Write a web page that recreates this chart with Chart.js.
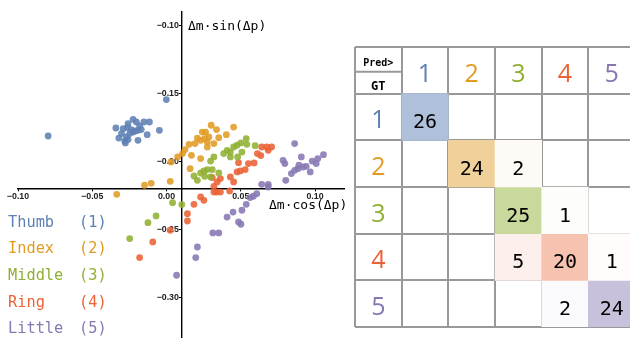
<!DOCTYPE html>
<html><head><meta charset="utf-8">
<script src="https://cdn.jsdelivr.net/npm/chart.js@4.4.1/dist/chart.umd.min.js"></script>
<style>
html,body{margin:0;padding:0;background:#fff;overflow:hidden;width:630px;height:338px;}
#wrap{position:relative;width:630px;height:338px;overflow:hidden;background:#fff;}
#scatterCanvas{position:absolute;left:0;top:0;}
#matrixCanvas{position:absolute;left:351px;top:42.67px;}
.lbl{position:absolute;font-family:'DejaVu Sans Mono',monospace;white-space:pre;line-height:1;}
.axlbl{font-size:13px;color:#000;}
.leg{font-size:15.3px;}
</style></head>
<body><div id="wrap">
<canvas id="scatterCanvas" width="350" height="345"></canvas>
<canvas id="matrixCanvas" width="288" height="288"></canvas>
<div class="lbl axlbl" style="left:188px;top:19px;">Δm·sin(Δp)</div>
<div class="lbl axlbl" style="left:269px;top:197.5px;">Δm·cos(Δp)</div>
<div id="legend"></div>
</div>
<script>
// ---------- data ----------
const fingerNames = ['Thumb', 'Index', 'Middle', 'Ring', 'Little'];
const fingerCodes = ['(1)', '(2)', '(3)', '(4)', '(5)'];
const fingerColors = ['#5E81B5', '#E19C24', '#8FB032', '#EB6235', '#8778B3'];

const thumbX = [-0.0225,-0.0259,-0.0203,-0.0152,-0.0115,-0.0341,-0.0292,-0.0263,-0.0237,-0.0210,-0.0192,-0.0170,-0.0181,-0.0248,-0.0270,-0.0281,-0.0259,-0.0321,-0.0277,-0.0192,-0.0130,-0.0048,-0.0797,-0.0001,-0.0225,-0.0303];
const thumbY = [-0.1691,-0.1723,-0.1711,-0.1711,-0.1711,-0.1755,-0.1760,-0.1752,-0.1767,-0.1777,-0.1772,-0.1767,-0.1740,-0.1796,-0.1821,-0.1851,-0.1840,-0.1829,-0.1865,-0.1846,-0.1804,-0.1772,-0.1814,-0.1546,-0.1785,-0.1796];

const indexX = [-0.0335,-0.0148,-0.0103,0.0025,0.0030,0.0075,0.0159,0.0108,0.0125,0.0152,0.0168,0.0192,0.0208,0.0230,0.0241,0.0263,0.0301,0.0337,0.0352,0.0257,0.0275,0.0285,0.0230,0.0319,0.0403,0.0452,0.0275];
const indexY = [-0.2243,-0.2176,-0.2162,-0.2147,-0.2005,-0.1968,-0.2054,-0.1943,-0.1914,-0.1875,-0.1956,-0.1870,-0.1829,-0.1980,-0.1785,-0.1785,-0.1735,-0.1767,-0.1826,-0.1833,-0.1858,-0.1821,-0.1846,-0.1870,-0.1804,-0.1748,-0.1895];

const middleX = [0.0041,0.0103,-0.0070,-0.0125,-0.0248,0.0185,0.0208,0.0230,0.0252,0.0275,0.0308,0.0352,0.0297,0.0257,0.0297,0.0319,0.0385,0.0408,0.0430,0.0452,0.0475,0.0501,0.0537,0.0541,0.0597,0.0430,0.0479,0.0508];
const middleY = [-0.2304,-0.2318,-0.2402,-0.2451,-0.2568,-0.2108,-0.2140,-0.2086,-0.2071,-0.2061,-0.2061,-0.2086,-0.2115,-0.2110,-0.1998,-0.1968,-0.1943,-0.1919,-0.1932,-0.1895,-0.1882,-0.1865,-0.1833,-0.1875,-0.1885,-0.1968,-0.1968,-0.1932];

const ringX = [0.0025,-0.0092,-0.0181,0.0141,0.0141,0.0185,0.0230,0.0252,0.0319,0.0319,0.0337,0.0363,0.0425,0.0341,0.0363,0.0308,0.0430,0.0452,0.0475,0.0497,0.0530,0.0552,0.0485,0.0590,0.0612,0.0635,0.0641,0.0675,0.0708,0.0685];
const ringY = [-0.2507,-0.2593,-0.2708,-0.2385,-0.2439,-0.2316,-0.2262,-0.2287,-0.2184,-0.2226,-0.2226,-0.2226,-0.2218,-0.2152,-0.2127,-0.2120,-0.2115,-0.2152,-0.2078,-0.2071,-0.2061,-0.2017,-0.2010,-0.2012,-0.1943,-0.1958,-0.1895,-0.1895,-0.1895,-0.1919];

const littleX = [0.0068,0.0197,0.0208,0.0312,0.0352,0.0408,0.0448,0.0485,0.0501,0.0508,0.0537,0.0563,0.0585,0.0608,0.0641,0.0685,0.0685,0.0803,0.0797,0.0785,0.0841,0.0863,0.0863,0.0885,0.0908,0.0919,0.0941,0.0968,0.0981,0.1008,0.1019,0.1057,0.0892];
const littleY = [-0.2838,-0.2708,-0.2630,-0.2527,-0.2527,-0.2410,-0.2373,-0.2446,-0.2463,-0.2360,-0.2316,-0.2267,-0.2257,-0.2238,-0.2169,-0.2169,-0.2189,-0.2140,-0.2017,-0.1993,-0.2090,-0.1870,-0.2066,-0.2054,-0.1968,-0.2042,-0.2037,-0.2078,-0.1998,-0.2017,-0.1980,-0.1951,-0.2029];

const xTickValues = [-0.10, -0.05, 0.00, 0.05, 0.10];
const yTickValues = [-0.10, -0.15, -0.20, -0.25, -0.30];
const xRange = [-0.10, 0.12];
const yRange = [-0.33, -0.09];
const axisCross = { x: 0.01, y: -0.22 };

// confusion matrix: rows = ground truth, columns = predicted
const predLabels = ['1', '2', '3', '4', '5'];
const gtLabels = ['1', '2', '3', '4', '5'];
const confusionRows = [
  [26, 0, 0, 0, 0],
  [0, 24, 2, 0, 0],
  [0, 0, 25, 1, 0],
  [0, 0, 5, 20, 1],
  [0, 0, 0, 2, 24]
];
const rowTotal = 26;

// ---------- helpers ----------
function zip(xs, ys) { return xs.map((v, i) => ({ x: v, y: ys[i] })); }
function fmtTick(v) {
  const s = Math.abs(v).toFixed(2);
  return (v < -1e-9 ? '\u2212' : '') + s;
}
function hexToRgb(h) { const n = parseInt(h.slice(1), 16); return [(n >> 16) & 255, (n >> 8) & 255, n & 255]; }
function tint(hex, a) {
  const c = hexToRgb(hex);
  return 'rgb(' + c.map(v => Math.round(255 - a * (255 - v))).join(',') + ')';
}
function withAlpha(hex, a) { const c = hexToRgb(hex); return 'rgba(' + c.join(',') + ',' + a + ')'; }

// ---------- legend (HTML text) ----------
const legend = document.getElementById('legend');
fingerNames.forEach((n, i) => {
  const top = 214.5 + i * 26.67;
  const a = document.createElement('div');
  a.className = 'lbl leg'; a.style.left = '8px'; a.style.top = top + 'px'; a.style.color = fingerColors[i];
  a.textContent = n; legend.appendChild(a);
  const b = document.createElement('div');
  b.className = 'lbl leg'; b.style.left = '79px'; b.style.top = top + 'px'; b.style.color = fingerColors[i];
  b.textContent = fingerCodes[i]; legend.appendChild(b);
});

// ---------- scatter ----------
const seriesX = [thumbX, indexX, middleX, ringX, littleX];
const seriesY = [thumbY, indexY, middleY, ringY, littleY];
const tickFont = { family: "'Liberation Sans', Arial, sans-serif", size: 8.8, weight: 'bold' };

new Chart(document.getElementById('scatterCanvas'), {
  type: 'scatter',
  data: {
    datasets: fingerNames.map((n, i) => ({
      label: n,
      data: zip(seriesX[i], seriesY[i]),
      backgroundColor: withAlpha(fingerColors[i], 0.88),
      borderWidth: 0,
      pointRadius: 3.4,
      pointHoverRadius: 3.4
    }))
  },
  options: {
    responsive: false,
    animation: false,
    events: [],
    layout: { padding: { left: 18, right: 5.3, top: 11.7, bottom: 6.9 } },
    plugins: { legend: { display: false }, tooltip: { enabled: false } },
    scales: {
      x: {
        type: 'linear', min: xRange[0], max: xRange[1],
        position: { y: axisCross.y },
        afterBuildTicks: ax => { ax.ticks = xTickValues.map(v => ({ value: v })); },
        ticks: { callback: v => fmtTick(v), font: tickFont, color: '#222', padding: 1, maxRotation: 0, autoSkip: false },
        grid: { drawOnChartArea: false, drawTicks: true, tickLength: 2, color: '#000', tickWidth: 1 },
        border: { display: true, color: '#000', width: 1.4 }
      },
      y: {
        type: 'linear', min: yRange[0], max: yRange[1],
        position: { x: axisCross.x },
        afterBuildTicks: ax => { ax.ticks = yTickValues.map(v => ({ value: v })); },
        ticks: { callback: v => fmtTick(v) + ' ', font: tickFont, color: '#222', padding: 1, autoSkip: false },
        grid: { drawOnChartArea: false, drawTicks: true, tickLength: 2, color: '#000', tickWidth: 1 },
        border: { display: true, color: '#000', width: 1.4 }
      }
    }
  }
});

// ---------- confusion matrix ----------
const matrixCats = ['hdr'].concat(predLabels);
const matrixText = {
  id: 'matrixText',
  afterDraw(chart) {
    const { ctx, scales: { x, y } } = chart;
    ctx.save();
    // split line inside header cell
    ctx.strokeStyle = '#999'; ctx.lineWidth = 2;
    ctx.beginPath();
    ctx.moveTo(x.getPixelForValue(-0.5), y.getPixelForValue(0.53));
    ctx.lineTo(x.getPixelForValue(0.5), y.getPixelForValue(0.53));
    ctx.stroke();
    ctx.textAlign = 'center'; ctx.textBaseline = 'alphabetic';
    ctx.fillStyle = '#000';
    ctx.font = "bold 10px 'DejaVu Sans Mono', monospace";
    ctx.fillText('Pred>', x.getPixelForValue(0), y.getPixelForValue(0.41));
    ctx.font = "bold 12px 'DejaVu Sans Mono', monospace";
    ctx.fillText('GT', x.getPixelForValue(0), y.getPixelForValue(0.93));
    ctx.font = "25px 'Open Sans', 'Noto Sans', sans-serif";
    predLabels.forEach((l, c) => {
      ctx.fillStyle = fingerColors[c];
      ctx.fillText(l, x.getPixelForValue(c + 1), y.getPixelForValue(0.74));
    });
    gtLabels.forEach((l, r) => {
      ctx.fillStyle = fingerColors[r];
      ctx.fillText(l, x.getPixelForValue(0), y.getPixelForValue(r + 1.74));
    });
    ctx.fillStyle = '#000';
    ctx.font = "20px 'DejaVu Sans Mono', monospace";
    confusionRows.forEach((row, r) => row.forEach((v, c) => {
      if (v > 0) ctx.fillText(String(v), x.getPixelForValue(c + 1), y.getPixelForValue(r + 1.74));
    }));
    ctx.restore();
  }
};

new Chart(document.getElementById('matrixCanvas'), {
  type: 'bar',
  data: {
    labels: matrixCats,
    datasets: confusionRows.map((row, r) => ({
      label: 'GT ' + gtLabels[r],
      data: matrixCats.map((_, c) => (c > 0 && row[c - 1] > 0) ? [r + 1, r + 2] : null),
      backgroundColor: matrixCats.map((_, c) => c > 0 ? tint(fingerColors[r], 0.5 * row[c - 1] / rowTotal) : '#fff'),
      borderWidth: 0,
      barPercentage: 1,
      categoryPercentage: 1,
      grouped: false
    }))
  },
  options: {
    responsive: false,
    animation: false,
    events: [],
    layout: { padding: 4 },
    plugins: { legend: { display: false }, tooltip: { enabled: false } },
    scales: {
      x: {
        type: 'category', offset: true, z: 1,
        ticks: { display: false },
        grid: { offset: true, color: '#999', lineWidth: 2, drawTicks: false },
        border: { display: false }
      },
      y: {
        type: 'linear', min: 0, max: 6, reverse: true, z: 1,
        ticks: { display: false, stepSize: 1 },
        grid: { color: '#999', lineWidth: 2, drawTicks: false },
        border: { display: false }
      }
    }
  },
  plugins: [matrixText]
});
</script>
</body></html>
